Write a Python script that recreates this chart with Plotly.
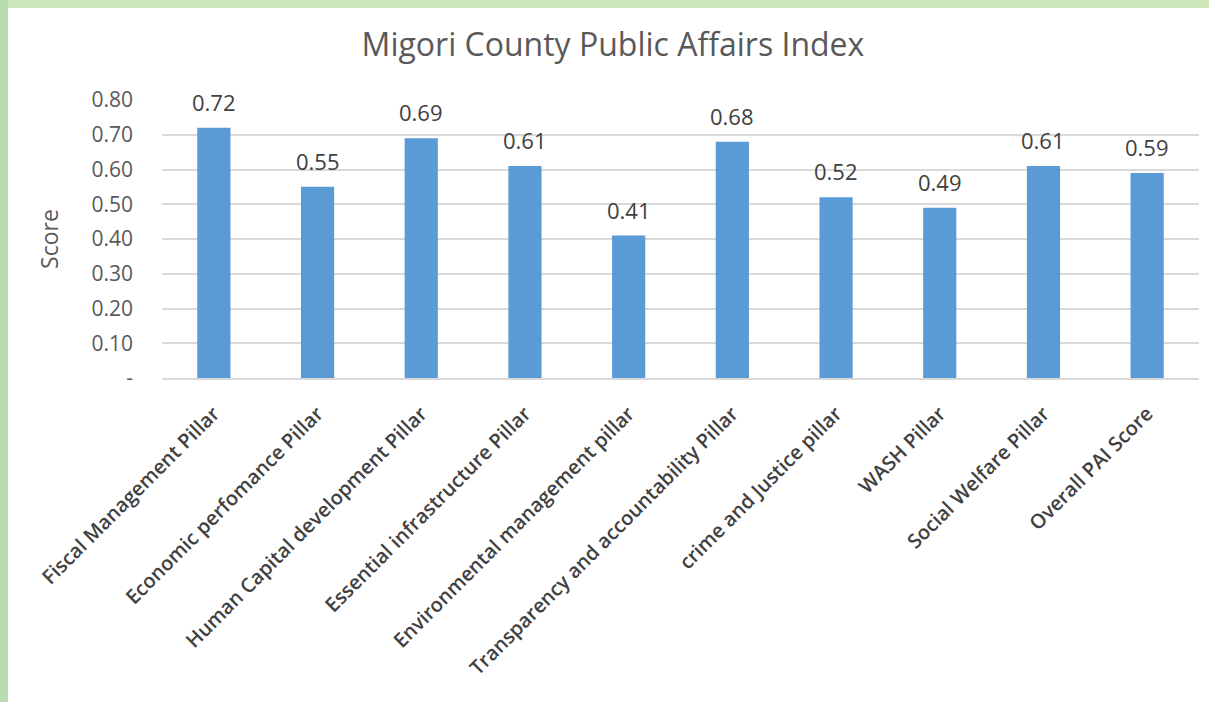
import plotly.graph_objects as go

categories = ["Fiscal Management Pillar", "Economic perfomance Pillar", "Human Capital development Pillar",
              "Essential infrastructure Pillar", "Environmental management pillar",
              "Transparency and accountability Pillar", "crime and Justice pillar", "WASH Pillar",
              "Social Welfare Pillar", "Overall PAI Score"]
scores = [0.72, 0.55, 0.69, 0.61, 0.41, 0.68, 0.52, 0.49, 0.61, 0.59]
y_tickvals = [0, 0.1, 0.2, 0.3, 0.4, 0.5, 0.6, 0.7, 0.8]
y_ticktext = ["-", "0.10", "0.20", "0.30", "0.40", "0.50", "0.60", "0.70", "0.80"]

FONT = "Open Sans, Liberation Sans, sans-serif"
W, H = 1209, 702
ml, mr, mt, mb = 162, 10, 100, 324
pw, ph = W - ml - mr, H - mt - mb

def px_x(p):
    return (p - ml) / pw

def px_y(p):  # p measured from top
    return 1 - (p - mt) / ph

fig = go.Figure(go.Bar(
    x=categories, y=scores, width=0.32,
    marker=dict(color="#5b9bd5", line=dict(width=0)),
    hoverinfo="x+y",
))

for c, v in zip(categories, scores):
    fig.add_annotation(x=c, y=v, text=f"{v:.2f}", showarrow=False, yanchor="bottom", yshift=9,
                       font=dict(family=FONT, size=22, color="#404040"))

green = "#cde7bb"
fig.add_shape(type="rect", xref="paper", yref="paper", x0=px_x(0), x1=px_x(W), y0=px_y(0), y1=px_y(8),
              fillcolor=green, line=dict(width=0), layer="below")
fig.add_shape(type="rect", xref="paper", yref="paper", x0=px_x(0), x1=px_x(8), y0=px_y(0), y1=px_y(H),
              fillcolor="#b9dcb1", line=dict(width=0), layer="below")

fig.update_layout(
    width=W, height=H,
    margin=dict(l=ml, r=mr, t=mt, b=mb),
    paper_bgcolor="white", plot_bgcolor="white",
    title=dict(text="Migori County Public Affairs Index", x=0.507, xref="container", xanchor="center",
               y=1 - 45 / H, yanchor="middle",
               font=dict(family=FONT, size=32, color="#595959")),
    font=dict(family=FONT, color="#595959"),
    showlegend=False,
    bargap=0.68,
)
fig.update_xaxes(tickangle=-45, tickfont=dict(size=20, color="#404040", family=FONT, weight=600),
                 showline=True, linecolor="#d9d9d9", linewidth=2, ticks="", showgrid=False,
                 ticklabelstandoff=14)
fig.update_yaxes(range=[0, 0.8], tickvals=y_tickvals, ticktext=y_ticktext, showgrid=True, gridcolor="#d9d9d9",
                 gridwidth=2, zeroline=False, tickfont=dict(size=21, color="#595959", family=FONT), ticks="",
                 ticklabelstandoff=28,
                 title=dict(text="Score", font=dict(size=23, color="#595959", family=FONT), standoff=26))

fig.write_html("out.html", config={"displayModeBar": False},
               post_script="document.body.style.margin='0';document.body.style.overflow='hidden';")
